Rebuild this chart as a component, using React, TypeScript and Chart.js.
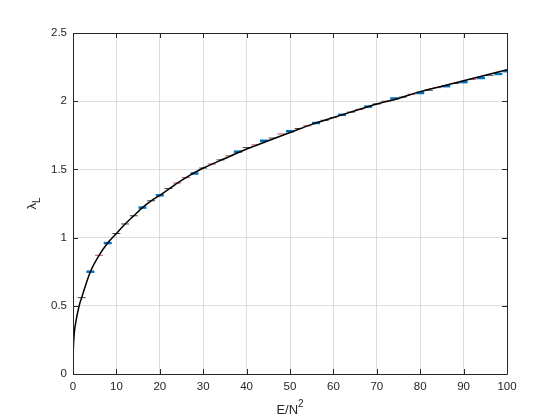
import React, { useEffect, useRef } from "react";
import { Chart, registerables } from "chart.js";

Chart.register(...registerables);

// Black model curve (E/N^2, lambda_L)
const curveE = [0, 0.005, 0.02, 0.08, 0.2, 0.4, 0.7, 1, 1.5, 2, 3, 4, 6, 8, 10, 12, 14, 16, 18, 20, 25, 30, 35, 40, 45, 50, 55, 60, 65, 70, 75, 80, 85, 90, 95, 100];
const curveL = [0, 0.07, 0.12, 0.19, 0.26, 0.33, 0.39, 0.44, 0.51, 0.56, 0.66, 0.75, 0.87, 0.96, 1.03, 1.1, 1.16, 1.22, 1.27, 1.31, 1.42, 1.51, 1.58, 1.65, 1.71, 1.77, 1.83, 1.88, 1.93, 1.98, 2.02, 2.07, 2.11, 2.15, 2.19, 2.23];

// Marker series (blue / black / red)
const blueE = [4, 8, 16, 20, 28, 38, 44, 50, 56, 62, 68, 74, 80, 86, 90, 94, 98, 100];
const blueL = [0.75, 0.96, 1.22, 1.31, 1.47, 1.63, 1.71, 1.78, 1.84, 1.9, 1.96, 2.02, 2.06, 2.11, 2.14, 2.17, 2.2, 2.22];
const blackE = [2, 10, 12, 14, 18, 22, 30, 34, 40, 46, 52, 58, 64, 70, 76, 82, 88, 96];
const blackL = [0.56, 1.03, 1.1, 1.16, 1.27, 1.36, 1.51, 1.57, 1.66, 1.73, 1.8, 1.86, 1.92, 1.98, 2.03, 2.08, 2.13, 2.19];
const redE = [6, 24, 26, 32, 36, 42, 48, 54, 60, 66, 72, 78, 84, 92];
const redL = [0.87, 1.4, 1.44, 1.54, 1.6, 1.68, 1.76, 1.82, 1.88, 1.94, 2.0, 2.05, 2.1, 2.16];

const xTicks = [0, 10, 20, 30, 40, 50, 60, 70, 80, 90, 100];
const yTicks = [0, 0.5, 1, 1.5, 2, 2.5];

const toXY = (xs: number[], ys: number[]) => xs.map((x, i) => ({ x, y: ys[i] }));

const FONT = "'Liberation Sans', Arial, sans-serif";
const AXIS = "#262626";

const framePlugin = {
  id: "frame",
  afterDraw(chart: any) {
    const { ctx, chartArea: a, scales } = chart;
    const xs = scales.x, ys = scales.y;
    ctx.save();
    ctx.strokeStyle = AXIS;
    ctx.lineWidth = 1;
    ctx.beginPath();
    ctx.rect(Math.round(a.left) + 0.5, Math.round(a.top) + 0.5, Math.round(a.right - a.left), Math.round(a.bottom - a.top));
    ctx.stroke();
    const L = 5;
    ctx.beginPath();
    xTicks.forEach((t) => {
      const px = Math.round(xs.getPixelForValue(t)) + 0.5;
      ctx.moveTo(px, a.bottom); ctx.lineTo(px, a.bottom - L);
      ctx.moveTo(px, a.top); ctx.lineTo(px, a.top + L);
    });
    yTicks.forEach((t) => {
      const py = Math.round(ys.getPixelForValue(t)) + 0.5;
      ctx.moveTo(a.left, py); ctx.lineTo(a.left + L, py);
      ctx.moveTo(a.right, py); ctx.lineTo(a.right - L, py);
    });
    ctx.stroke();
    // axis titles
    ctx.fillStyle = AXIS;
    ctx.textBaseline = "alphabetic";
    ctx.font = `13px ${FONT}`;
    const cx = (a.left + a.right) / 2;
    const main = "E/N";
    const w1 = ctx.measureText(main).width;
    ctx.font = `10px ${FONT}`;
    const w2 = ctx.measureText("2").width;
    const sx = cx - (w1 + w2) / 2;
    ctx.font = `13px ${FONT}`;
    ctx.textAlign = "left";
    ctx.fillText(main, sx, 414);
    ctx.font = `10px ${FONT}`;
    ctx.fillText("2", sx + w1, 407);
    // y title
    ctx.save();
    ctx.translate(36, (a.top + a.bottom) / 2);
    ctx.rotate(-Math.PI / 2);
    ctx.font = `13px ${FONT}`;
    const l1 = ctx.measureText("λ").width;
    ctx.font = `10px ${FONT}`;
    const l2 = ctx.measureText("L").width;
    const sy = -(l1 + l2) / 2;
    ctx.font = `13px ${FONT}`;
    ctx.fillText("λ", sy, 0);
    ctx.font = `10px ${FONT}`;
    ctx.fillText("L", sy + l1, 4);
    ctx.restore();
    ctx.restore();
  },
};

export default function App() {
  const ref = useRef<HTMLCanvasElement | null>(null);
  useEffect(() => {
    if (!ref.current) return;
    const chart = new Chart(ref.current, {
      type: "scatter",
      data: {
        datasets: [
          {
            type: "line",
            data: toXY(curveE, curveL),
            borderColor: "#000000",
            borderWidth: 1.5,
            pointRadius: 0,
            cubicInterpolationMode: "monotone",
            order: 0,
          } as any,
          {
            data: toXY(blueE, blueL),
            pointStyle: "line",
            pointRadius: 4,
            borderColor: "#0072BD",
            backgroundColor: "#0072BD",
            pointBorderWidth: 2.5,
            order: 1,
          } as any,
          {
            data: toXY(blackE, blackL),
            pointStyle: "line",
            pointRadius: 4,
            borderColor: "#444444",
            backgroundColor: "#444444",
            pointBorderWidth: 1,
            order: 2,
          } as any,
          {
            data: toXY(redE, redL),
            pointStyle: "line",
            pointRadius: 4,
            borderColor: "#c86a7a",
            backgroundColor: "#c86a7a",
            pointBorderWidth: 1.2,
            order: 3,
          } as any,
        ],
      },
      options: {
        responsive: false,
        animation: false,
        layout: { padding: { top: 33, right: 53, left: 0, bottom: 0 } },
        plugins: { legend: { display: false }, tooltip: { enabled: false } },
        scales: {
          x: {
            type: "linear",
            min: 0,
            max: 100,
            afterBuildTicks: (s: any) => { s.ticks = xTicks.map((v) => ({ value: v })); },
            afterFit: (s: any) => { s.height = 46; },
            grid: { color: "rgba(0,0,0,0.13)", drawTicks: false },
            border: { display: false },
            ticks: { color: AXIS, font: { family: FONT, size: 11.5 }, padding: 6, maxRotation: 0, callback: (v: any) => String(v) },
          },
          y: {
            type: "linear",
            min: 0,
            max: 2.5,
            afterBuildTicks: (s: any) => { s.ticks = yTicks.map((v) => ({ value: v })); },
            afterFit: (s: any) => { s.width = 73; },
            grid: { color: "rgba(0,0,0,0.13)", drawTicks: false },
            border: { display: false },
            ticks: { color: AXIS, font: { family: FONT, size: 11.5 }, padding: 6, callback: (v: any) => String(v) },
          },
        },
      },
      plugins: [framePlugin],
    });
    return () => chart.destroy();
  }, []);
  return (
    <div style={{ position: "fixed", left: 0, top: 0, width: 560, height: 420, background: "#fff" }}>
      <canvas ref={ref} width={560} height={420} />
    </div>
  );
}
